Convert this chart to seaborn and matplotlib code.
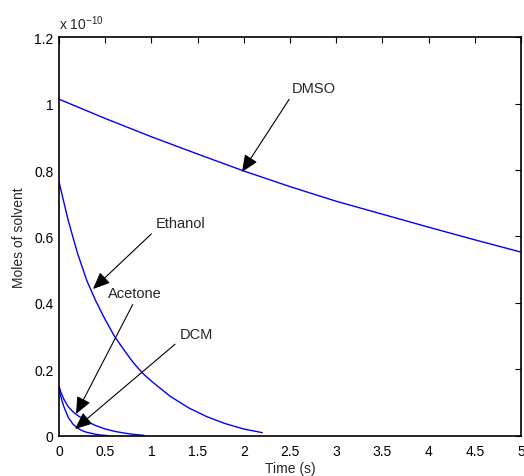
import numpy as np
import pandas as pd
import seaborn as sns
import matplotlib.pyplot as plt
from matplotlib.ticker import FuncFormatter, MultipleLocator

# values, in units of 1e-10 mol
scale = 1e-10

t_dmso = [0, 0.5, 1, 1.5, 2, 2.5, 3, 3.5, 4, 4.5, 5]
y_dmso = [1.013, 0.955, 0.900, 0.848, 0.797, 0.750, 0.706, 0.667, 0.628, 0.590, 0.553]

t_ethanol = [0, 0.1, 0.2, 0.3, 0.4, 0.5, 0.6, 0.7, 0.8, 0.9, 1.0, 1.2, 1.4, 1.6, 1.8, 2.0, 2.2]
y_ethanol = [0.764, 0.648, 0.550, 0.468, 0.405, 0.350, 0.300, 0.260, 0.222, 0.190, 0.165,
             0.120, 0.085, 0.058, 0.037, 0.021, 0.010]

t_acetone = [0, 0.02, 0.05, 0.1, 0.15, 0.2, 0.3, 0.4, 0.5, 0.6, 0.7, 0.8, 0.92]
y_acetone = [0.150, 0.132, 0.112, 0.088, 0.073, 0.062, 0.044, 0.031, 0.021, 0.014, 0.009, 0.005, 0.002]

t_dcm = [0, 0.02, 0.05, 0.1, 0.15, 0.2, 0.25, 0.3, 0.35, 0.4, 0.45, 0.53]
y_dcm = [0.145, 0.118, 0.090, 0.056, 0.036, 0.024, 0.016, 0.011, 0.008, 0.005, 0.003, 0.001]

solvents = ['DMSO', 'Ethanol', 'Acetone', 'DCM']

rows = []
for name, tt, yy in zip(solvents, [t_dmso, t_ethanol, t_acetone, t_dcm],
                        [y_dmso, y_ethanol, y_acetone, y_dcm]):
    for a, b in zip(tt, yy):
        rows.append((name, a, b * scale))
df = pd.DataFrame(rows, columns=['solvent', 'time', 'moles'])

sns.set_theme(style='white')
plt.rcParams['font.family'] = ['Liberation Sans', 'DejaVu Sans']

fig = plt.figure(figsize=(5.24, 4.77), dpi=100)
ax = fig.add_axes([0.1126, 0.0839, 0.8817, 0.8364])

sns.lineplot(data=df, x='time', y='moles', hue='solvent', units='solvent',
             estimator=None, palette=['#0000ff'] * 4, legend=False,
             linewidth=1.0, ax=ax, sort=False)

ax.set_xlim(0, 5)
ax.set_ylim(0, 1.2 * scale)
ax.xaxis.set_major_locator(MultipleLocator(0.5))
ax.yaxis.set_major_locator(MultipleLocator(0.2 * scale))
ax.xaxis.set_major_formatter(FuncFormatter(lambda v, _: f'{v:g}'))
ax.yaxis.set_major_formatter(FuncFormatter(lambda v, _: f'{round(v / scale, 2):g}'))
ax.xaxis.get_offset_text().set_visible(False)
ax.yaxis.get_offset_text().set_visible(False)
ax.tick_params(direction='in', top=True, right=True, length=4, width=0.8,
               labelsize=10, colors='black')
ax.tick_params(axis='x', pad=6)
ax.tick_params(axis='y', pad=4)
for s in ax.spines.values():
    s.set_color('black')
    s.set_linewidth(1.2)

ax.set_xlabel('Time (s)', fontsize=10, labelpad=2)
ax.set_ylabel('Moles of solvent', fontsize=10, labelpad=6)
ax.text(0.0, 1.012, r'x 10$^{\mathregular{-10}}$', transform=ax.transAxes,
        fontsize=10, ha='left', va='bottom')

# annotation arrows: (label, text position, arrow head, relpos of tail)
labels = ['DMSO', 'Ethanol', 'Acetone', 'DCM']
text_pos = [(2.76, 1.047), (1.315, 0.641), (0.823, 0.430), (1.483, 0.308)]
head_pos = [(1.98, 0.794), (0.368, 0.442), (0.184, 0.066), (0.173, 0.021)]
tail_rel = [(0, 0), (0, 0), (0.5, 0), (0, 0)]

for lab, tp, hp, rp in zip(labels, text_pos, head_pos, tail_rel):
    ax.annotate(lab, xy=(hp[0], hp[1] * scale), xytext=(tp[0], tp[1] * scale),
                ha='center', va='center', fontsize=10.5,
                arrowprops=dict(arrowstyle='-|>,head_length=0.65,head_width=0.28',
                                color='black', lw=0.8,
                                mutation_scale=16, shrinkA=1, shrinkB=0,
                                relpos=rp))

fig.savefig('out.png', dpi=100)
